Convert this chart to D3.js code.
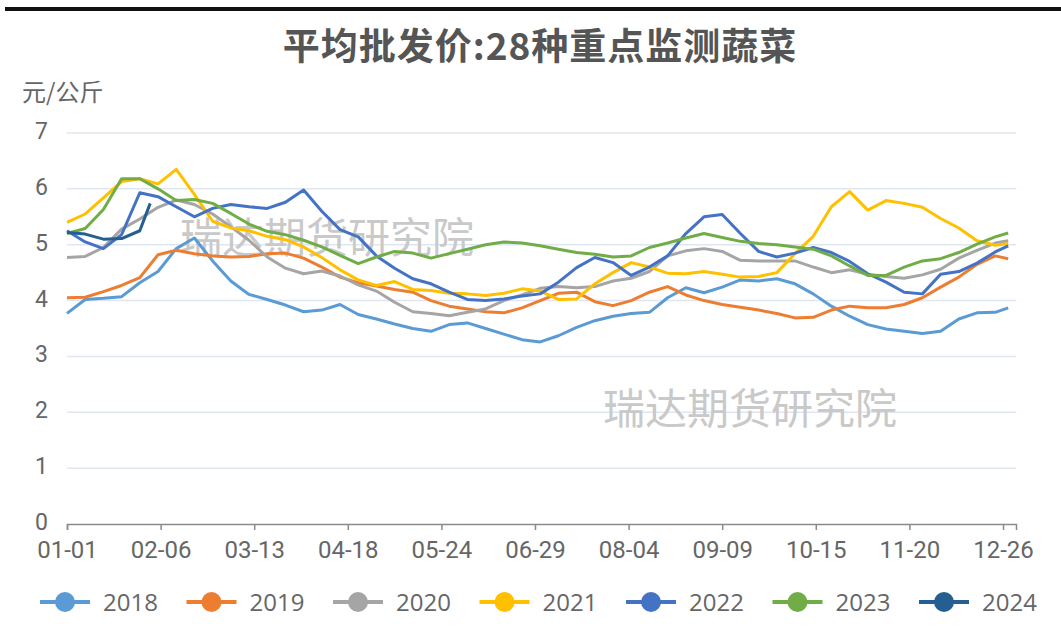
<!DOCTYPE html>
<html>
<head>
<meta charset="utf-8">
<title>平均批发价:28种重点监测蔬菜</title>
<script src="https://d3js.org/d3.v7.min.js"></script>
<style>
  body { margin: 0; background: #fff; }
  svg { display: block; font-family: "Noto Sans CJK SC", "Open Sans", sans-serif; }
</style>
</head>
<body>
<svg id="chart" width="1061" height="643"></svg>
<script>
// day of year for every sample (weekly, last point near year end)
const days = [0, 7, 14, 21, 28, 35, 42, 49, 56, 63, 70, 77, 84, 91, 98, 105, 112, 119, 126, 133,
  140, 147, 154, 161, 168, 175, 182, 189, 196, 203, 210, 217, 224, 231, 238, 245, 252, 259, 266,
  273, 280, 287, 294, 301, 308, 315, 322, 329, 336, 343, 350, 357, 362];
const days2024 = [0, 7, 14, 21, 28, 32];

const tickDays = [0, 36, 72, 108, 144, 180, 216, 252, 288, 324, 360];
const tickLabels = ["01-01", "02-06", "03-13", "04-18", "05-24", "06-29", "08-04", "09-09", "10-15", "11-20", "12-26"];

const v2018 = [3.77, 4.02, 4.04, 4.07, 4.32, 4.52, 4.93, 5.12, 4.71, 4.35, 4.11, 4.02, 3.92, 3.8, 3.83, 3.93,
  3.75, 3.67, 3.58, 3.5, 3.45, 3.57, 3.6, 3.5, 3.4, 3.3, 3.26, 3.37, 3.52, 3.64, 3.72, 3.77, 3.79, 4.05,
  4.23, 4.14, 4.24, 4.37, 4.35, 4.39, 4.3, 4.12, 3.9, 3.72, 3.57, 3.49, 3.45, 3.41, 3.45, 3.67, 3.78, 3.79, 3.87];
const v2019 = [4.05, 4.06, 4.16, 4.27, 4.41, 4.82, 4.9, 4.84, 4.8, 4.78, 4.79, 4.84, 4.85, 4.76, 4.6, 4.42,
  4.32, 4.26, 4.2, 4.15, 4.0, 3.9, 3.85, 3.8, 3.78, 3.87, 4.0, 4.13, 4.15, 3.98, 3.91, 4.0, 4.15, 4.25,
  4.1, 4.0, 3.93, 3.88, 3.83, 3.77, 3.69, 3.7, 3.83, 3.9, 3.87, 3.87, 3.93, 4.05, 4.24, 4.42, 4.65, 4.8, 4.75];
const v2020 = [4.77, 4.79, 4.95, 5.28, 5.46, 5.67, 5.8, 5.72, 5.55, 5.32, 5.08, 4.78, 4.58, 4.48, 4.53, 4.44,
  4.28, 4.17, 3.97, 3.8, 3.77, 3.73, 3.79, 3.85, 4.0, 4.1, 4.22, 4.25, 4.23, 4.25, 4.35, 4.4, 4.52, 4.8,
  4.89, 4.93, 4.88, 4.72, 4.71, 4.71, 4.71, 4.6, 4.5, 4.55, 4.47, 4.43, 4.4, 4.46, 4.56, 4.76, 4.9, 5.03, 5.07];
const v2021 = [5.4, 5.55, 5.84, 6.13, 6.18, 6.09, 6.35, 5.9, 5.42, 5.3, 5.25, 5.15, 5.09, 4.96, 4.77, 4.55,
  4.37, 4.27, 4.34, 4.2, 4.18, 4.13, 4.12, 4.09, 4.13, 4.21, 4.17, 4.02, 4.03, 4.3, 4.5, 4.68, 4.6, 4.49,
  4.48, 4.52, 4.47, 4.42, 4.43, 4.5, 4.84, 5.15, 5.68, 5.95, 5.62, 5.79, 5.74, 5.67, 5.47, 5.3, 5.07, 4.99, 5.02];
const v2022 = [5.25, 5.05, 4.93, 5.18, 5.93, 5.86, 5.68, 5.5, 5.65, 5.72, 5.68, 5.65, 5.76, 5.98, 5.6, 5.27,
  5.14, 4.8, 4.58, 4.39, 4.3, 4.15, 4.02, 4.0, 4.03, 4.08, 4.12, 4.33, 4.59, 4.77, 4.68, 4.45, 4.6, 4.8,
  5.2, 5.5, 5.54, 5.2, 4.88, 4.78, 4.85, 4.95, 4.86, 4.7, 4.48, 4.33, 4.15, 4.12, 4.47, 4.52, 4.67, 4.87, 4.98];
const v2023 = [5.2, 5.29, 5.63, 6.18, 6.18, 6.0, 5.79, 5.81, 5.74, 5.56, 5.37, 5.24, 5.18, 5.08, 4.96, 4.81,
  4.66, 4.78, 4.88, 4.85, 4.76, 4.84, 4.92, 5.0, 5.05, 5.03, 4.98, 4.92, 4.86, 4.83, 4.78, 4.8, 4.95, 5.03,
  5.12, 5.2, 5.13, 5.06, 5.02, 5.0, 4.96, 4.92, 4.8, 4.62, 4.45, 4.45, 4.6, 4.71, 4.75, 4.86, 5.01, 5.14, 5.21];
const v2024 = [5.22, 5.19, 5.1, 5.11, 5.25, 5.74];

const years = ["2018", "2019", "2020", "2021", "2022", "2023", "2024"];
const colors = ["#5B9BD5", "#ED7D31", "#A5A5A5", "#FFC000", "#4472C4", "#70AD47", "#255E91"];
const yTicks = [0, 1, 2, 3, 4, 5, 6, 7];

const series = [
  { name: years[0], d: days, v: v2018 },
  { name: years[1], d: days, v: v2019 },
  { name: years[2], d: days, v: v2020 },
  { name: years[3], d: days, v: v2021 },
  { name: years[4], d: days, v: v2022 },
  { name: years[5], d: days, v: v2023 },
  { name: years[6], d: days2024, v: v2024 }
];

const svg = d3.select("#chart");
const plotL = 67, plotR = 1016, plotT = 133, plotB = 524;

const x = d3.scaleLinear().domain([0, 365]).range([plotL, plotR]);
const y = d3.scaleLinear().domain([0, 7]).range([plotB, plotT]);
const color = d3.scaleOrdinal().domain(years).range(colors);

// top rule
svg.append("rect").attr("x", 5).attr("y", 7).attr("width", 1056).attr("height", 4).attr("fill", "#111");

svg.append("text")
  .attr("x", 540).attr("y", 60)
  .attr("text-anchor", "middle")
  .attr("font-size", 37).attr("font-weight", "bold")
  .attr("letter-spacing", 1)
  .attr("fill", "#555")
  .text("平均批发价:28种重点监测蔬菜");

svg.append("text")
  .attr("x", 22).attr("y", 101)
  .attr("font-size", 24).attr("fill", "#666")
  .text("元/公斤");

// grid
svg.append("g").selectAll("line")
  .data(yTicks.filter(t => t > 0))
  .join("line")
  .attr("x1", plotL).attr("x2", plotR)
  .attr("y1", d => y(d)).attr("y2", d => y(d))
  .attr("stroke", "#E0E6F1").attr("stroke-width", 1.5);

const yAxis = svg.append("g")
  .attr("transform", `translate(${plotL},0)`)
  .call(d3.axisLeft(y).tickValues(yTicks).tickSize(0).tickPadding(19).tickFormat(d3.format("d")));
yAxis.select(".domain").remove();
yAxis.selectAll("text").attr("font-size", 23).attr("fill", "#666").attr("font-family", "Roboto, sans-serif")
  .attr("dy", "0.24em");

// watermarks
const wm = [[327, 253], [750, 424]];
svg.append("g").selectAll("text")
  .data(wm)
  .join("text")
  .attr("x", d => d[0]).attr("y", d => d[1])
  .attr("text-anchor", "middle")
  .attr("font-size", 42)
  .attr("fill", "#c9c9c9")
  .text("瑞达期货研究院");

const xAxis = svg.append("g")
  .attr("transform", `translate(0,${plotB})`)
  .call(d3.axisBottom(x).tickValues(tickDays).tickSize(6).tickPadding(11)
    .tickFormat((d, i) => tickLabels[i]));
xAxis.select(".domain").attr("stroke", "#8a8a8a").attr("stroke-width", 1.5);
xAxis.selectAll(".tick line").attr("stroke", "#8a8a8a").attr("stroke-width", 1.5);
xAxis.selectAll("text").attr("font-size", 24).attr("fill", "#666").attr("font-family", "Roboto, sans-serif");

// lines
const line = d3.line()
  .x(d => x(d[0]))
  .y(d => y(d[1]));

svg.append("g").selectAll("path")
  .data(series)
  .join("path")
  .attr("d", s => line(s.d.map((dd, i) => [dd, s.v[i]])))
  .attr("fill", "none")
  .attr("stroke", s => color(s.name))
  .attr("stroke-width", 3)
  .attr("stroke-linejoin", "round");

// legend
const legend = svg.append("g").attr("transform", "translate(65,602)");
const item = legend.selectAll("g")
  .data(years)
  .join("g")
  .attr("transform", (d, i) => `translate(${i * 146.5},0)`);
item.append("line")
  .attr("x1", -25).attr("x2", 25)
  .attr("stroke", d => color(d)).attr("stroke-width", 4);
item.append("circle")
  .attr("r", 10)
  .attr("fill", d => color(d));
item.append("text")
  .attr("x", 38).attr("y", 9)
  .attr("font-size", 24).attr("fill", "#666")
  .attr("font-family", "Open Sans, sans-serif")
  .text(d => d);
</script>
</body>
</html>
